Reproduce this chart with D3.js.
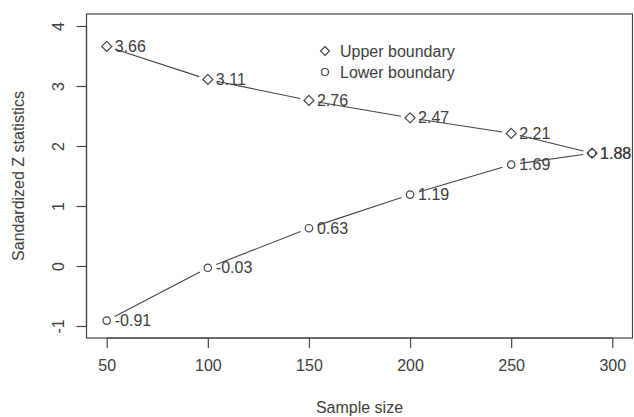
<!DOCTYPE html>
<html>
<head>
<meta charset="utf-8">
<script src="https://cdn.jsdelivr.net/npm/d3@7"></script>
<style>
  body { margin: 0; background: #fff; }
  text { font-family: "Liberation Sans", Arial, sans-serif; fill: #404040; }
</style>
</head>
<body>
<div id="chart"></div>
<script>
// sample sizes and boundary values
const sampleSizes = [50, 100, 150, 200, 250, 290];
const upperValues = [3.66, 3.11, 2.76, 2.47, 2.21, 1.88];
const lowerValues = [-0.91, -0.03, 0.63, 1.19, 1.69, 1.88];
const xTicks = [50, 100, 150, 200, 250, 300];
const yTicks = [-1, 0, 1, 2, 3, 4];

const W = 634, H = 417;
const box = { left: 86.5, right: 632.5, top: 14, bottom: 338 };
const ink = "#444";
const fs = 16;

const svg = d3.select("#chart")
    .append("svg")
    .attr("width", W)
    .attr("height", H);

const x = d3.scaleLinear().domain([40, 310]).range([box.left, box.right]);
const y = d3.scaleLinear().domain([-1.2, 4.2]).range([box.bottom, box.top]);

// R style numbers, plain hyphen for minus
const fmtInt = d => String(d);
const fmt2 = d => d.toFixed(2);

// plot box
svg.append("rect")
    .attr("x", box.left)
    .attr("y", box.top)
    .attr("width", box.right - box.left)
    .attr("height", box.bottom - box.top)
    .attr("fill", "none")
    .attr("stroke", ink)
    .attr("stroke-width", 1.2);

// x axis
const xAxis = svg.append("g")
    .attr("transform", `translate(0,${box.bottom})`)
    .call(d3.axisBottom(x).tickValues(xTicks).tickSize(10).tickPadding(12).tickFormat(fmtInt));
xAxis.select(".domain").attr("d", `M${x(50)},0H${x(300)}`).attr("stroke", ink).attr("stroke-width", 1.2);
xAxis.selectAll(".tick line").attr("stroke", ink).attr("stroke-width", 1.2);
xAxis.selectAll(".tick text").attr("font-size", fs).attr("font-family", null).attr("fill", null);

// y axis
const yAxis = svg.append("g")
    .attr("transform", `translate(${box.left},0)`)
    .call(d3.axisLeft(y).tickValues(yTicks).tickSize(10).tickFormat(fmtInt));
yAxis.select(".domain").attr("d", `M0,${y(-1)}V${y(4)}`).attr("stroke", ink).attr("stroke-width", 1.2);
yAxis.selectAll(".tick line").attr("stroke", ink).attr("stroke-width", 1.2);
yAxis.selectAll(".tick text")
    .attr("font-size", fs).attr("font-family", null).attr("fill", null)
    .attr("x", null)
    .attr("text-anchor", "middle")
    .attr("transform", "translate(-28,0) rotate(-90)")
    .attr("dy", "0.35em");

// axis titles
svg.append("text")
    .attr("x", (box.left + box.right) / 2)
    .attr("y", 413)
    .attr("text-anchor", "middle")
    .attr("font-size", fs)
    .text("Sample size");

svg.append("text")
    .attr("transform", `translate(24,${(box.top + box.bottom) / 2}) rotate(-90)`)
    .attr("text-anchor", "middle")
    .attr("font-size", fs)
    .text("Sandardized Z statistics");

// lines with gaps around points (type = "b")
function gappedSegments(vals) {
    const pts = sampleSizes.map((s, i) => [x(s), y(vals[i])]);
    const segs = [];
    const gap = 9;
    for (let i = 0; i < pts.length - 1; i++) {
        const [x0, y0] = pts[i], [x1, y1] = pts[i + 1];
        const len = Math.hypot(x1 - x0, y1 - y0);
        if (len <= 2 * gap) continue;
        const ux = (x1 - x0) / len, uy = (y1 - y0) / len;
        segs.push([x0 + ux * gap, y0 + uy * gap, x1 - ux * gap, y1 - uy * gap]);
    }
    return segs;
}

[upperValues, lowerValues].forEach(vals => {
    svg.append("g").selectAll("line")
        .data(gappedSegments(vals))
        .enter()
        .append("line")
        .attr("x1", d => d[0]).attr("y1", d => d[1])
        .attr("x2", d => d[2]).attr("y2", d => d[3])
        .attr("stroke", ink)
        .attr("stroke-width", 1.1);
});

// markers
const diamond = r => `M0,${-r}L${r},0L0,${r}L${-r},0Z`;

svg.append("g").selectAll("path")
    .data(upperValues)
    .enter()
    .append("path")
    .attr("d", diamond(5))
    .attr("transform", (d, i) => `translate(${x(sampleSizes[i])},${y(d)})`)
    .attr("fill", "none")
    .attr("stroke", ink)
    .attr("stroke-width", 1.2);

svg.append("g").selectAll("circle")
    .data(lowerValues)
    .enter()
    .append("circle")
    .attr("cx", (d, i) => x(sampleSizes[i]))
    .attr("cy", d => y(d))
    .attr("r", 3.7)
    .attr("fill", "none")
    .attr("stroke", ink)
    .attr("stroke-width", 1.2);

// value labels to the right of each point
[upperValues, lowerValues].forEach(vals => {
    svg.append("g").selectAll("text")
        .data(vals)
        .enter()
        .append("text")
        .attr("x", (d, i) => x(sampleSizes[i]) + 8)
        .attr("y", d => y(d))
        .attr("dy", "0.35em")
        .attr("font-size", fs)
        .text(fmt2);
});

// legend
const legend = svg.append("g").attr("transform", "translate(325,0)");
legend.append("path")
    .attr("d", diamond(4.5))
    .attr("transform", "translate(0,51)")
    .attr("fill", "none").attr("stroke", ink).attr("stroke-width", 1.2);
legend.append("circle")
    .attr("cx", 0).attr("cy", 72).attr("r", 3.5)
    .attr("fill", "none").attr("stroke", ink).attr("stroke-width", 1.2);
legend.append("text").attr("x", 15).attr("y", 51).attr("dy", "0.35em").attr("font-size", fs).text("Upper boundary");
legend.append("text").attr("x", 15).attr("y", 72).attr("dy", "0.35em").attr("font-size", fs).text("Lower boundary");
</script>
</body>
</html>
